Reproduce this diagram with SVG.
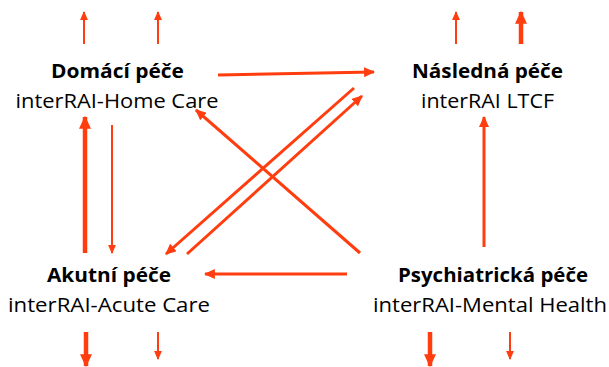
<svg xmlns="http://www.w3.org/2000/svg" width="609" height="367" viewBox="0 0 609 367">
<defs>
<marker id="hs" viewBox="0 0 10 10" refX="9" refY="5" markerWidth="9" markerHeight="8" markerUnits="userSpaceOnUse" orient="auto" preserveAspectRatio="none"><path d="M0,0 L10,5 L0,10 z" fill="#ff3d0f"/></marker>
<marker id="hm" viewBox="0 0 10 10" refX="9" refY="5" markerWidth="11" markerHeight="10" markerUnits="userSpaceOnUse" orient="auto" preserveAspectRatio="none"><path d="M0,0 L10,5 L0,10 z" fill="#ff3d0f"/></marker>
<marker id="hl" viewBox="0 0 10 10" refX="9" refY="5" markerWidth="13" markerHeight="12" markerUnits="userSpaceOnUse" orient="auto" preserveAspectRatio="none"><path d="M0,0 L10,5 L0,10 z" fill="#ff3d0f"/></marker>
</defs>
<style>
.b{font-family:"Open Sans","Liberation Sans",sans-serif;font-weight:bold;font-size:19.5px;fill:#000;text-anchor:middle}
.r{font-family:"Open Sans","Liberation Sans",sans-serif;font-size:19.5px;fill:#000;text-anchor:middle}
.t{stroke:#ff3d0f;stroke-width:2;fill:none;marker-end:url(#hs)}
.m{stroke:#ff3d0f;stroke-width:3;fill:none;marker-end:url(#hm)}
.k{stroke:#ff3d0f;stroke-width:4.5;fill:none;marker-end:url(#hl)}
</style>
<g id="domaci"><text class="b" x="117.5" y="78" textLength="133" lengthAdjust="spacingAndGlyphs">Domácí péče</text><text class="r" x="117" y="107.5" textLength="203" lengthAdjust="spacingAndGlyphs">interRAI-Home Care</text></g>
<g id="nasledna"><text class="b" x="487.5" y="78" textLength="151" lengthAdjust="spacingAndGlyphs">Následná péče</text><text class="r" x="487.5" y="107.5" textLength="133" lengthAdjust="spacingAndGlyphs">interRAI LTCF</text></g>
<g id="akutni"><text class="b" x="109" y="282" textLength="124" lengthAdjust="spacingAndGlyphs">Akutní péče</text><text class="r" x="109" y="311.5" textLength="202" lengthAdjust="spacingAndGlyphs">interRAI-Acute Care</text></g>
<g id="psych"><text class="b" x="493" y="282" textLength="190" lengthAdjust="spacingAndGlyphs">Psychiatrická péče</text><text class="r" x="490" y="311.5" textLength="234" lengthAdjust="spacingAndGlyphs">interRAI-Mental Health</text></g>
<g id="connectors">
<line class="t" x1="84" y1="44" x2="84" y2="12"/>
<line class="t" x1="158" y1="44" x2="158" y2="12"/>
<line class="t" x1="456" y1="44" x2="456" y2="12"/>
<line class="k" x1="521" y1="44" x2="521" y2="12"/>
<line class="m" x1="218" y1="75" x2="374" y2="72"/>
<line class="k" x1="85" y1="253" x2="85" y2="117"/>
<line class="t" x1="112" y1="125" x2="112" y2="253"/>
<line class="m" x1="484" y1="247" x2="484" y2="117"/>
<line class="m" x1="354" y1="88" x2="166" y2="254"/>
<line class="m" x1="187" y1="254" x2="362" y2="96"/>
<line class="m" x1="360" y1="253" x2="196" y2="110"/>
<line class="m" x1="347" y1="274" x2="205" y2="274"/>
<line class="k" x1="86" y1="332" x2="86" y2="366"/>
<line class="t" x1="158" y1="332" x2="158" y2="359"/>
<line class="k" x1="430" y1="332" x2="430" y2="366"/>
<line class="t" x1="510" y1="332" x2="510" y2="359"/>
</g>
</svg>
